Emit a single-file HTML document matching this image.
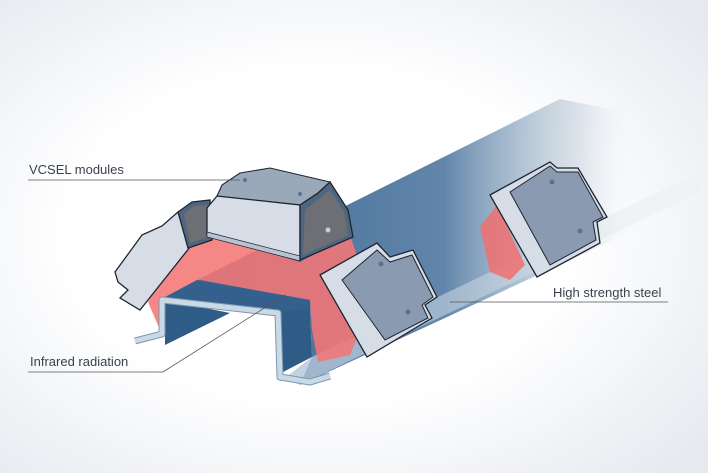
<!DOCTYPE html>
<html><head><style>
html,body{margin:0;padding:0;width:708px;height:473px;overflow:hidden;background:#fff}
svg{display:block}
text{font-family:"Liberation Sans",sans-serif;font-size:13px;fill:#3a4250}
</style></head><body>
<svg width="708" height="473" viewBox="0 0 708 473">
<defs>
<radialGradient id="bg" cx="0.45" cy="0.5" r="0.7">
<stop offset="0.5" stop-color="#ffffff"/><stop offset="1" stop-color="#e6eaef"/>
</radialGradient>
<linearGradient id="beam" x1="150" y1="0" x2="640" y2="0" gradientUnits="userSpaceOnUse">
<stop offset="0" stop-color="#3a6390"/><stop offset="0.6" stop-color="#6286aa"/><stop offset="0.88" stop-color="#c9d4df" stop-opacity="0.6"/><stop offset="1" stop-color="#fff" stop-opacity="0"/>
</linearGradient>
<linearGradient id="side" x1="300" y1="0" x2="700" y2="0" gradientUnits="userSpaceOnUse">
<stop offset="0" stop-color="#b4c7d8"/><stop offset="1" stop-color="#e8eef3" stop-opacity="0.3"/>
</linearGradient>
</defs>
<rect width="708" height="473" fill="url(#bg)"/>
<!-- beam body -->
<polygon points="197,280 560,99 640,115 700,160 700,200 300,385 312,357 310,307" fill="url(#beam)"/>
<polygon points="312,357 700,172 700,192 300,385 285,378" fill="url(#side)" opacity="0.8"/>
<!-- red radiation back -->
<polygon points="480,227 497,205 525,265 510,280 490,272" fill="#f07070" opacity="0.85"/>
<!-- red radiation front -->
<polygon points="148,302 182,245 210,235 300,262 350,235 372,300 350,355 318,362 312,330 310,300 200,280 165,298 160,330" fill="#f47676" opacity="0.88"/>
<!-- hat dark faces -->
<polygon points="165,297 197,280 310,300 310,310 280,313" fill="#33608c"/>
<polygon points="165,300 230,313 165,345" fill="#2f5b87"/>
<polygon points="280,313 310,308 312,357 283,372" fill="#2f5b87"/>
<!-- U profile lip -->
<polyline points="135,341 162,334 162,300 278,313 280,377 310,382 330,376" fill="none" stroke="#7d97ae" stroke-width="7" stroke-linejoin="round"/>
<polyline points="135,341 162,334 162,300 278,313 280,377 310,382 330,376" fill="none" stroke="#c9d9e6" stroke-width="5" stroke-linejoin="round"/>
<!-- left module -->
<polygon points="115,272 142,235 162,226 178,212 190,247 140,310 120,298 128,290 118,282" fill="#d6dde6" stroke="#1e2530" stroke-width="1.3"/>
<polygon points="178,212 192,202 210,200 212,240 188,248" fill="#4e6680" stroke="#1e2530" stroke-width="1.3"/>
<polygon points="184,214 194,206 207,205 208,237 190,243" fill="#6d6f75"/>
<!-- center module -->
<polygon points="217,196 222,185 240,173 270,168 330,182 318,193 300,205" fill="#9aa9ba" stroke="#1e2530" stroke-width="1.1"/>
<polygon points="207,208 217,196 300,205 300,260 207,235" fill="#d6dde6" stroke="#1e2530" stroke-width="1.3"/>
<polygon points="207,232 300,256 300,261 207,237" fill="#b9c3cf" stroke="#1e2530" stroke-width="0.7"/>
<polygon points="300,205 318,193 330,182 348,210 353,237 300,260" fill="#4e6680" stroke="#1e2530" stroke-width="1.3"/>
<polygon points="305,210 320,198 330,190 344,212 348,235 303,255" fill="#6d6f75"/>
<circle cx="328" cy="230" r="2.5" fill="#ccc"/>
<circle cx="245" cy="180" r="2" fill="#5b7093"/>
<circle cx="300" cy="194" r="2" fill="#5b7093"/>
<!-- right front module -->
<polygon points="320,275 377,243 390,257 413,250 437,297 425,305 432,318 367,357" fill="#d6dde6" stroke="#1e2530" stroke-width="1.3"/>
<polygon points="342,280 377,250 390,262 412,255 433,297 422,305 428,318 385,340" fill="#8a9ab0" stroke="#1e2530" stroke-width="1"/>
<circle cx="381" cy="264" r="2.5" fill="#5b7093"/>
<circle cx="408" cy="312" r="2.5" fill="#5b7093"/>
<!-- right back module -->
<polygon points="490,195 550,162 557,168 578,168 607,217 597,222 600,243 537,277" fill="#d6dde6" stroke="#1e2530" stroke-width="1.3"/>
<polygon points="510,192 550,166 557,172 578,172 603,217 593,222 596,240 550,265" fill="#8a9ab0" stroke="#1e2530" stroke-width="1"/>
<circle cx="552" cy="182" r="2.5" fill="#5b7093"/>
<circle cx="580" cy="231" r="2.5" fill="#5b7093"/>
<!-- labels -->
<line x1="28" y1="180" x2="240" y2="180" stroke="#555" stroke-width="0.8"/>
<text x="29" y="174">VCSEL modules</text>
<polyline points="28,372 163,372 285,295" fill="none" stroke="#555" stroke-width="0.8"/>
<text x="30" y="366">Infrared radiation</text>
<line x1="450" y1="302" x2="668" y2="302" stroke="#555" stroke-width="0.8"/>
<text x="553" y="297">High strength steel</text>
</svg>
</body></html>
